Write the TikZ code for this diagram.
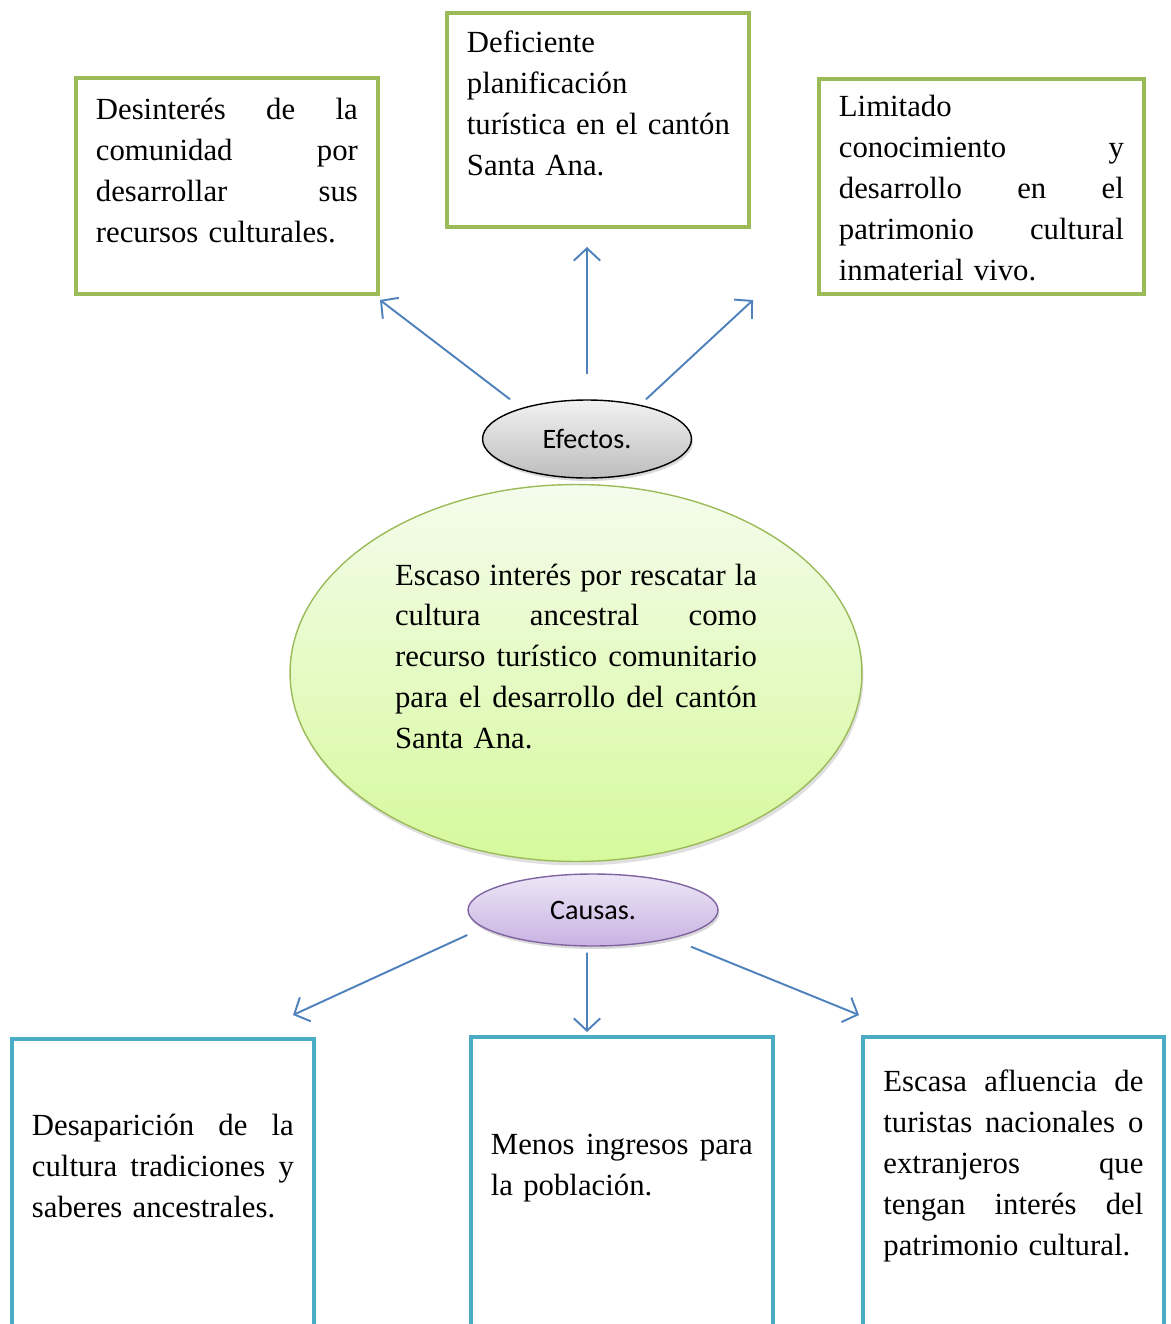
\documentclass[tikz,border=0pt]{standalone}
\usepackage{fontspec}
\setmainfont{Liberation Serif}
\newfontfamily\calfont{Carlito}
\usetikzlibrary{arrows.meta,shadows,shapes.geometric}
\definecolor{verde}{HTML}{9BBB59}
\definecolor{celeste}{HTML}{4BACC6}
\definecolor{azul}{HTML}{4F81BD}
\definecolor{morado}{HTML}{8064A2}
\definecolor{verdearriba}{HTML}{F4FCEC}
\definecolor{verdeabajo}{HTML}{D6F99C}
\definecolor{grisarriba}{HTML}{F2F2F2}
\definecolor{grisabajo}{HTML}{BDBDBD}
\definecolor{moradoarriba}{HTML}{EDE6F6}
\definecolor{moradoabajo}{HTML}{C8B3E2}
% linea justificada: palabras separadas con \hfill
\newcommand{\jline}[1]{\leavevmode\hbox to\hsize{#1}}
\begin{document}
\begin{tikzpicture}[x=0.02cm,y=-0.02cm,
		efecto/.style={draw=verde,line width=2.2pt,fill=white,inner sep=0pt,align=left,anchor=north west,
			font=\fontsize{17.5}{23.3}\selectfont},
		causa/.style={efecto,draw=celeste},
		flecha/.style={azul,line width=1.1pt,-{Straight Barb[length=7pt,width=15pt]}},
		etiqueta/.style={ellipse,inner sep=0pt,font=\calfont\fontsize{16}{18}\selectfont,
			drop shadow={shadow xshift=0.03cm,shadow yshift=-0.06cm,opacity=0.3}}]
	\useasboundingbox (0,0) rectangle (1170,1324);
	\clip (0,0) rectangle (1170,1324);
	% efectos
	\node[efecto,minimum width=6.04cm,text width=5.24cm,text height=0.84cm,text depth=3.48cm] (b1) at (74,76)
		{\jline{Desinterés\hfill de\hfill la}\\ \jline{comunidad\hfill por}\\ \jline{desarrollar\hfill sus}\\ recursos culturales.};
	\node[efecto,minimum width=6.04cm,text width=5.24cm,text height=0.80cm,text depth=3.48cm] (b2) at (445,11)
		{Deficiente\\ planificación\\ \mbox{turística en el cantón}\\ Santa Ana.};
	\node[efecto,minimum width=6.5cm,text width=5.7cm,text height=0.76cm,text depth=3.54cm] (b3) at (817,77)
		{Limitado\\ \jline{conocimiento\hfill y}\\ \jline{desarrollo\hfill en\hfill el}\\ \jline{patrimonio\hfill cultural}\\ inmaterial vivo.};
	\node[etiqueta,draw=black,line width=0.8pt,top color=grisarriba,bottom color=grisabajo,
		minimum width=4.18cm,minimum height=1.56cm] (ef) at (587,439) {Efectos.};
	% problema central
	\node[ellipse,draw=verde,line width=0.8pt,top color=verdearriba,bottom color=verdeabajo,
		minimum width=11.44cm,minimum height=7.54cm,inner sep=0pt,text width=7.24cm,align=left,
		text height=0.4cm,text depth=3.92cm,font=\fontsize{17.5}{23.3}\selectfont,
		drop shadow={shadow xshift=0.03cm,shadow yshift=-0.08cm,opacity=0.25}] (pc) at (576,673)
		{\jline{Escaso\hfill interés\hfill por\hfill rescatar\hfill la}\\ \jline{cultura\hfill ancestral\hfill como}\\
		\jline{recurso\hfill turístico\hfill comunitario}\\ \jline{para\hfill el\hfill desarrollo\hfill del\hfill cantón}\\ Santa Ana.};
	% causas
	\node[etiqueta,draw=morado,line width=0.8pt,top color=moradoarriba,bottom color=moradoabajo,
		minimum width=5.0cm,minimum height=1.44cm] (ca) at (593,910) {Causas.};
	\node[causa,minimum width=6.04cm,text width=5.24cm,text height=1.94cm,text depth=4.3cm] (b4) at (10,1037)
		{\jline{Desaparición\hfill de\hfill la}\\ \jline{cultura\hfill tradiciones\hfill y}\\ saberes ancestrales.};
	\node[causa,minimum width=6.04cm,text width=5.24cm,text height=2.36cm,text depth=3.9cm] (b5) at (469,1035)
		{\jline{Menos\hfill ingresos\hfill para}\\ la población.};
	\node[causa,minimum width=6.02cm,text width=5.2cm,text height=1.10cm,text depth=5.16cm] (b6) at (861,1035)
		{\jline{Escasa\hfill afluencia\hfill de}\\ \jline{turistas\hfill nacionales\hfill o}\\ \jline{extranjeros\hfill que}\\
		\jline{tengan\hfill interés\hfill del}\\ patrimonio cultural.};
	% flechas
	\coordinate (e1) at (380,300);
	\coordinate (e2) at (587,247);
	\coordinate (e3) at (753,300);
	\coordinate (c1) at (293,1015);
	\coordinate (c2) at (587,1032);
	\coordinate (c3) at (859,1015);
	\draw[flecha] ([xshift=-1.54cm]ef.north) -- (e1);
	\draw[flecha] ([yshift=0.5cm]ef.north) -- (e2);
	\draw[flecha] ([xshift=1.18cm]ef.north) -- (e3);
	\draw[flecha] ([yshift=-0.5cm]ca.west) -- (c1);
	\draw[flecha] ([xshift=-0.12cm,yshift=-0.12cm]ca.south) -- (c2);
	\draw[flecha] ([xshift=1.96cm]ca.south) -- (c3);
\end{tikzpicture}
\end{document}
